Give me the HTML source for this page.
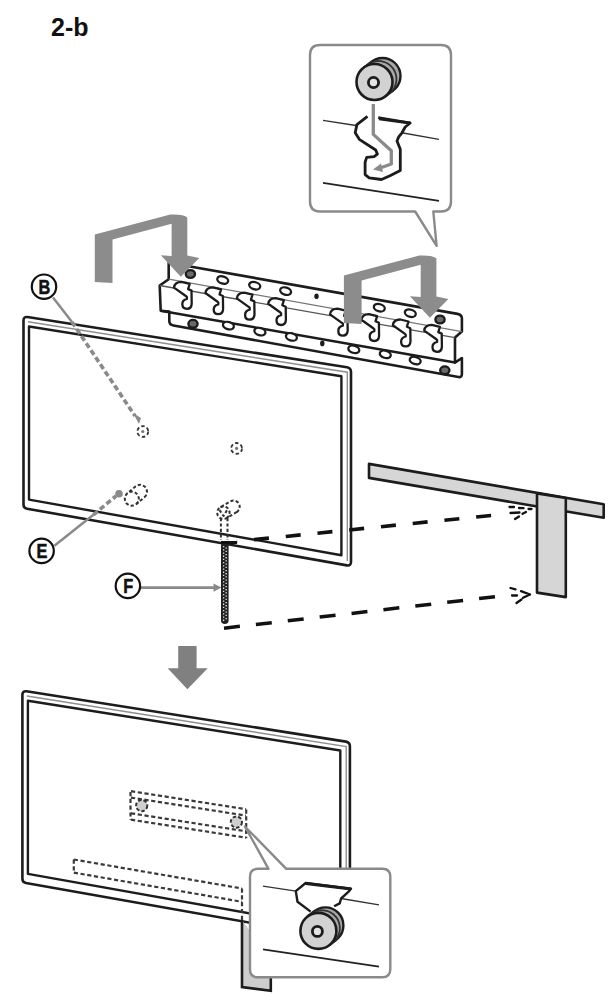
<!DOCTYPE html>
<html><head><meta charset="utf-8"><style>
html,body{margin:0;padding:0;background:#fff;}
body{width:610px;height:995px;overflow:hidden;}
svg{display:block;}
</style></head><body>
<svg width="610" height="995" viewBox="0 0 610 995">
<rect width="610" height="995" fill="#fff"/>
<text x="51" y="36" font-family="Liberation Sans" font-weight="bold" font-size="25" fill="#111">2-b</text><path d="M320,45 L441,45 Q451,45 451,55 L451,201.5 Q451,211.5 441,211.5 L433.3,211.5 L436.6,245.9 L415.2,211.5 L320,211.5 Q310,211.5 310,201.5 L310,55 Q310,45 320,45 Z" fill="#fff" stroke="#8a8a8a" stroke-width="2.4" stroke-linejoin="round"/><path d="M323,120.3 L356,125.5 M400.3,132.5 L439,139.3" stroke="#333" stroke-width="1.3" fill="none"/><path d="M323,182.9 L439,200.8" stroke="#222" stroke-width="1.8" fill="none"/><polyline points="367.5,116.4 356.9,124.6 355.2,132.8 359.3,139.3 375.7,150 377.4,154.1 374.1,156.6 366.7,157.4 365.1,162.3 365.1,174.6 369.2,177.9 381.5,179.5 390.5,175.4 400.3,170.5 400.3,149.2 397,141 398.7,136.9 402,132.8 405.2,127 410.2,123 379,118.9" fill="#fff" stroke="#1c1c1c" stroke-width="2.8" stroke-linejoin="round"/><path d="M378.2,117.6 L410.2,123" stroke="#1c1c1c" stroke-width="2.6"/><path d="M373.3,104 L373.3,134.4 L391.3,150.8 L391.3,164 L380,168" stroke="#8a8a8a" stroke-width="3.3" fill="none" stroke-linejoin="round"/><path d="M373,169.5 L381,163.5 L383,172 Z" fill="#8a8a8a"/><circle cx="382.5" cy="76" r="18" fill="#a8a8a8" stroke="#1c1c1c" stroke-width="2.4"/><path d="M385.3,96.4 L393.3,90.4 L371.7,61.6 L363.7,67.6 Z" fill="#a8a8a8"/><path d="M385.3,96.4 L393.3,90.4 M371.7,61.6 L363.7,67.6" stroke="#1c1c1c" stroke-width="2.4"/><path d="M389.3,93.4 L391.9,91 L394,88.2 L395.5,85 L396.3,81.5 L396.5,78 L395.9,74.5 L394.7,71.2 L392.9,68.2 L390.5,65.6 L387.7,63.5 L384.5,62 L381,61.2 L377.5,61 L374,61.6 L370.7,62.8 L367.7,64.6" fill="none" stroke="#333" stroke-width="1.8"/><circle cx="374.5" cy="82" r="18" fill="#d2d2d2" stroke="#1c1c1c" stroke-width="2.6"/><circle cx="373.5" cy="82.5" r="5.1" fill="#e4e4e4" stroke="#1c1c1c" stroke-width="2.8"/><g transform="translate(0,0)"><path d="M23.5,320.5 Q23.5,316.5 27.5,317 L347,367.3 Q351,368 351,372 L351,562 Q351,566 347,565.4 L27,508.7 Q23.5,508 23.5,504.5 Z" fill="#fff" stroke="#1c1c1c" stroke-width="2.6" stroke-linejoin="round"/><path d="M28,321.7 L347.3,372.2 L347.3,561" fill="none" stroke="#8f8f8f" stroke-width="1.4"/><path d="M29,326.5 L341.4,376.2 L341.4,555.2 L29,499.6 Z" fill="#fff" stroke="#1c1c1c" stroke-width="2.4" stroke-linejoin="round"/></g><path d="M369,463.9 L603.7,504.3 L603.7,517.8 L369,477.9 Z" fill="#d6d6d6" stroke="#1c1c1c" stroke-width="2.6" stroke-linejoin="round"/><path d="M537,493.4 L565.8,498 L565.8,597.1 L537,592.6 Z" fill="#d6d6d6" stroke="#1c1c1c" stroke-width="2.6" stroke-linejoin="round"/><path d="M237,541.4 L505,514" stroke="#111" stroke-width="3.6" stroke-dasharray="15 16.9" stroke-dashoffset="-17.1" fill="none"/><path d="M224,628.2 L505,595.6" stroke="#111" stroke-width="3.5" stroke-dasharray="16 16.1" fill="none"/><g transform="translate(509.5,507)" stroke="#111" stroke-width="2.3" stroke-linecap="round"><path d="M0,0 L4.5,0 M9.5,1 L14,1.2 M19,2 L22,2 M1,6 L10,5.5 M13,6.8 L16.5,5 M5.5,12 L9.5,9.5"/></g><path d="M510.5,588 L515.5,589.3 M521,591.2 L530,594.5 M512,595.5 L517,595.5 M523,597.8 L530,594.5 M516.5,603 L521.5,599.5" stroke="#111" stroke-width="2.3" stroke-linecap="round" fill="none"/><path d="M168.7,262.7 L457.5,313.9 Q461.9,314.7 461.9,318.5 L461.9,331.6 L455,337.6 L455,362.6 L461.9,358 L461.9,374 Q461.9,377.6 458.5,377 L173.5,325.5 Q169.3,324.8 169.3,321 L169.3,311.6 L160.7,310.7 L159.7,285.5 L168.7,279.2 Z" fill="#fff" stroke="#1c1c1c" stroke-width="2.6" stroke-linejoin="round"/><path d="M160.7,310.7 L455,362.6" fill="none" stroke="#1c1c1c" stroke-width="2.5"/><path d="M159.7,285.5 L455,337.6" fill="none" stroke="#555" stroke-width="1.4"/><path d="M168.7,279.2 L461.9,331.6" fill="none" stroke="#777" stroke-width="1.3"/><path transform="translate(168.5,278.6)" d="M5.5,9 C6,5 9,3.3 13,3.3 L21.2,5.3 L19.6,10.5 L23,12 L23.2,25 C23,29 21,30.2 18.5,30.2 C15,30.2 13.8,28 13.8,25.5 C13.8,22 15.5,21 18.4,20.3 C18.8,19 18.2,18 17.7,17.7 Z" fill="#fff" stroke="#1c1c1c" stroke-width="2.3" stroke-linejoin="round"/><path transform="translate(199.9,284)" d="M5.5,9 C6,5 9,3.3 13,3.3 L21.2,5.3 L19.6,10.5 L23,12 L23.2,25 C23,29 21,30.2 18.5,30.2 C15,30.2 13.8,28 13.8,25.5 C13.8,22 15.5,21 18.4,20.3 C18.8,19 18.2,18 17.7,17.7 Z" fill="#fff" stroke="#1c1c1c" stroke-width="2.3" stroke-linejoin="round"/><path transform="translate(231.3,289.4)" d="M5.5,9 C6,5 9,3.3 13,3.3 L21.2,5.3 L19.6,10.5 L23,12 L23.2,25 C23,29 21,30.2 18.5,30.2 C15,30.2 13.8,28 13.8,25.5 C13.8,22 15.5,21 18.4,20.3 C18.8,19 18.2,18 17.7,17.7 Z" fill="#fff" stroke="#1c1c1c" stroke-width="2.3" stroke-linejoin="round"/><path transform="translate(262.7,294.8)" d="M5.5,9 C6,5 9,3.3 13,3.3 L21.2,5.3 L19.6,10.5 L23,12 L23.2,25 C23,29 21,30.2 18.5,30.2 C15,30.2 13.8,28 13.8,25.5 C13.8,22 15.5,21 18.4,20.3 C18.8,19 18.2,18 17.7,17.7 Z" fill="#fff" stroke="#1c1c1c" stroke-width="2.3" stroke-linejoin="round"/><path transform="translate(324.5,305.4)" d="M5.5,9 C6,5 9,3.3 13,3.3 L21.2,5.3 L19.6,10.5 L23,12 L23.2,25 C23,29 21,30.2 18.5,30.2 C15,30.2 13.8,28 13.8,25.5 C13.8,22 15.5,21 18.4,20.3 C18.8,19 18.2,18 17.7,17.7 Z" fill="#fff" stroke="#1c1c1c" stroke-width="2.3" stroke-linejoin="round"/><path transform="translate(355.9,310.8)" d="M5.5,9 C6,5 9,3.3 13,3.3 L21.2,5.3 L19.6,10.5 L23,12 L23.2,25 C23,29 21,30.2 18.5,30.2 C15,30.2 13.8,28 13.8,25.5 C13.8,22 15.5,21 18.4,20.3 C18.8,19 18.2,18 17.7,17.7 Z" fill="#fff" stroke="#1c1c1c" stroke-width="2.3" stroke-linejoin="round"/><path transform="translate(387.3,316.2)" d="M5.5,9 C6,5 9,3.3 13,3.3 L21.2,5.3 L19.6,10.5 L23,12 L23.2,25 C23,29 21,30.2 18.5,30.2 C15,30.2 13.8,28 13.8,25.5 C13.8,22 15.5,21 18.4,20.3 C18.8,19 18.2,18 17.7,17.7 Z" fill="#fff" stroke="#1c1c1c" stroke-width="2.3" stroke-linejoin="round"/><path transform="translate(418.7,321.6)" d="M5.5,9 C6,5 9,3.3 13,3.3 L21.2,5.3 L19.6,10.5 L23,12 L23.2,25 C23,29 21,30.2 18.5,30.2 C15,30.2 13.8,28 13.8,25.5 C13.8,22 15.5,21 18.4,20.3 C18.8,19 18.2,18 17.7,17.7 Z" fill="#fff" stroke="#1c1c1c" stroke-width="2.3" stroke-linejoin="round"/><ellipse cx="222.7" cy="280" rx="5.6" ry="3.6" transform="rotate(16 222.7 280)" fill="#fff" stroke="#1c1c1c" stroke-width="2.3"/><ellipse cx="254.7" cy="285.7" rx="5.6" ry="3.6" transform="rotate(16 254.7 285.7)" fill="#fff" stroke="#1c1c1c" stroke-width="2.3"/><ellipse cx="285.6" cy="291.1" rx="5.6" ry="3.6" transform="rotate(16 285.6 291.1)" fill="#fff" stroke="#1c1c1c" stroke-width="2.3"/><ellipse cx="379.3" cy="307.7" rx="5.6" ry="3.6" transform="rotate(16 379.3 307.7)" fill="#fff" stroke="#1c1c1c" stroke-width="2.3"/><ellipse cx="410.3" cy="313.2" rx="5.6" ry="3.6" transform="rotate(16 410.3 313.2)" fill="#fff" stroke="#1c1c1c" stroke-width="2.3"/><ellipse cx="228.4" cy="325.6" rx="5.6" ry="3.6" transform="rotate(16 228.4 325.6)" fill="#fff" stroke="#1c1c1c" stroke-width="2.3"/><ellipse cx="259.9" cy="331.6" rx="5.6" ry="3.6" transform="rotate(16 259.9 331.6)" fill="#fff" stroke="#1c1c1c" stroke-width="2.3"/><ellipse cx="291.4" cy="336.9" rx="5.6" ry="3.6" transform="rotate(16 291.4 336.9)" fill="#fff" stroke="#1c1c1c" stroke-width="2.3"/><ellipse cx="353.8" cy="349.3" rx="5.6" ry="3.6" transform="rotate(16 353.8 349.3)" fill="#fff" stroke="#1c1c1c" stroke-width="2.3"/><ellipse cx="385.3" cy="354.3" rx="5.6" ry="3.6" transform="rotate(16 385.3 354.3)" fill="#fff" stroke="#1c1c1c" stroke-width="2.3"/><ellipse cx="415.2" cy="360.5" rx="5.6" ry="3.6" transform="rotate(16 415.2 360.5)" fill="#fff" stroke="#1c1c1c" stroke-width="2.3"/><ellipse cx="190.4" cy="274" rx="4.6" ry="3.9" fill="#6a6a6a" stroke="#1c1c1c" stroke-width="2.4"/><ellipse cx="440" cy="319.5" rx="4.6" ry="3.9" fill="#6a6a6a" stroke="#1c1c1c" stroke-width="2.4"/><ellipse cx="193" cy="323.8" rx="4.6" ry="3.9" fill="#6a6a6a" stroke="#1c1c1c" stroke-width="2.4"/><ellipse cx="444.8" cy="370.3" rx="4.6" ry="3.9" fill="#6a6a6a" stroke="#1c1c1c" stroke-width="2.4"/><ellipse cx="316.5" cy="296.2" rx="2.2" ry="2.8" fill="#1c1c1c"/><ellipse cx="322.3" cy="343.4" rx="2.2" ry="2.8" fill="#1c1c1c"/><path transform="translate(94.8,234.5)" d="M0,0 L75.5,-20 Q89,-20.5 92.5,-17 L92.5,21 L104.5,23.5 L86,42.3 L66,20.7 L76.8,21.5 L76.8,-10.8 L17.7,5 L17.7,48.5 L0,47.5 Z" fill="#8c8c8c"/><path transform="translate(343.9,275.5)" d="M0,0 L75.5,-20 Q89,-20.5 92.5,-17 L92.5,21 L104.5,23.5 L86,42.3 L66,20.7 L76.8,21.5 L76.8,-10.8 L17.7,5 L17.7,48.5 L0,47.5 Z" fill="#8c8c8c"/><path d="M53,297.5 L72,322" stroke="#8a8a8a" stroke-width="2.5" fill="none"/><path d="M72,322 L135,416" stroke="#8a8a8a" stroke-width="3.6" stroke-dasharray="5.5 3" fill="none"/><path d="M133,413 L141,418 L139,424 Z" fill="#8a8a8a"/><circle cx="44" cy="286.7" r="12.2" fill="#fff" stroke="#111" stroke-width="2.2"/><text transform="translate(44.3,293.8) scale(0.84,1)" x="0" y="0" text-anchor="middle" font-family="Liberation Sans" font-weight="bold" font-size="19.5" fill="#111" stroke="#111" stroke-width="0.5">B</text><path d="M54.4,545.7 L93.4,514.8" stroke="#8a8a8a" stroke-width="2.5" fill="none"/><path d="M93.4,514.8 L116,496" stroke="#8a8a8a" stroke-width="3.6" stroke-dasharray="5.5 3" fill="none"/><circle cx="119" cy="493.8" r="3.8" fill="#8a8a8a"/><circle cx="41.6" cy="550.9" r="12.2" fill="#fff" stroke="#111" stroke-width="2.2"/><text transform="translate(41.9,558) scale(0.84,1)" x="0" y="0" text-anchor="middle" font-family="Liberation Sans" font-weight="bold" font-size="19.5" fill="#111" stroke="#111" stroke-width="0.5">E</text><path d="M140,587.6 L216,587.6" stroke="#8a8a8a" stroke-width="2.6" fill="none"/><path d="M213.5,583.5 L221.5,587.6 L213.5,591.7 Z" fill="#8a8a8a"/><circle cx="127.9" cy="585.9" r="12.2" fill="#fff" stroke="#111" stroke-width="2.2"/><text transform="translate(128.2,593) scale(0.84,1)" x="0" y="0" text-anchor="middle" font-family="Liberation Sans" font-weight="bold" font-size="19.5" fill="#111" stroke="#111" stroke-width="0.5">F</text><circle cx="142.8" cy="431.5" r="5.4" fill="none" stroke="#333" stroke-width="1.8" stroke-dasharray="3.5 2.3"/><circle cx="142.8" cy="431.5" r="1.6" fill="#777"/><circle cx="236.6" cy="448.4" r="5.4" fill="none" stroke="#333" stroke-width="1.8" stroke-dasharray="3.5 2.3"/><circle cx="236.6" cy="448.4" r="1.6" fill="#777"/><g fill="none" stroke="#333" stroke-width="2" stroke-dasharray="3.2 2.2" stroke-linejoin="round"><path d="M144.5,497.2 L145.7,495.8 L146.6,494.2 L147,492.4 L146.9,490.6 L146.3,488.8 L145.4,487.3 L144,486.1 L142.4,485.2 L140.6,484.8 L138.8,484.9 L137,485.5 L135.5,486.4 L127.3,493.3 L126.1,494.7 L125.2,496.3 L124.8,498.1 L124.9,499.9 L125.5,501.7 L126.4,503.2 L127.8,504.4 L129.4,505.3 L131.2,505.7 L133,505.6 L134.8,505 L136.3,504.1 Z"/><path d="M136.3,504.1 L137.5,502.7 L138.4,501.1 L138.8,499.3 L138.7,497.5 L138.1,495.7 L137.2,494.2 L135.8,493 L134.2,492.1 L132.4,491.7 L130.6,491.8 L128.8,492.4 L127.3,493.3"/></g><g fill="none" stroke="#333" stroke-width="2" stroke-dasharray="3.2 2.2" stroke-linejoin="round"><path d="M236.6,512.2 L237.9,511.2 L238.9,509.9 L239.5,508.4 L239.7,506.8 L239.5,505.2 L238.9,503.7 L237.9,502.4 L236.6,501.4 L235.1,500.8 L233.5,500.6 L231.9,500.8 L230.4,501.4 L220.3,507.3 L219,508.3 L218,509.6 L217.4,511.1 L217.2,512.7 L217.4,514.3 L218,515.8 L219,517.1 L220.3,518.1 L221.8,518.7 L223.4,518.9 L225,518.7 L226.5,518.1 Z"/><path d="M226.5,518.1 L227.8,517.1 L228.8,515.8 L229.4,514.3 L229.6,512.7 L229.4,511.1 L228.8,509.6 L227.8,508.3 L226.5,507.3 L225,506.7 L223.4,506.5 L221.8,506.7 L220.3,507.3"/><path d="M220.9,518 L220.9,540 M227.5,518 L227.5,540 M219.5,510 L223.5,516 L227,510"/></g><rect x="221" y="542" width="7.6" height="82" rx="3.8" fill="#222"/><path d="M223.6,546 L223.6,621" stroke="#e8e8e8" stroke-width="1.3" stroke-dasharray="1.3 1.9"/><path d="M226.2,547.5 L226.2,621" stroke="#e8e8e8" stroke-width="1.3" stroke-dasharray="1.3 1.9"/><path d="M221,542.5 L237,542.5" stroke="#111" stroke-width="3"/><path d="M178.2,645.9 L196.6,645.9 L196.6,668.2 L207.7,668.2 L187.4,689.2 L167.7,668.2 L178.2,668.2 Z" fill="#808080"/><g transform="translate(-1.1,374.3)"><path d="M23.5,320.5 Q23.5,316.5 27.5,317 L347,367.3 Q351,368 351,372 L351,562 Q351,566 347,565.4 L27,508.7 Q23.5,508 23.5,504.5 Z" fill="#fff" stroke="#1c1c1c" stroke-width="2.6" stroke-linejoin="round"/><path d="M28,321.7 L347.3,372.2 L347.3,561" fill="none" stroke="#8f8f8f" stroke-width="1.4"/><path d="M29,326.5 L341.4,376.2 L341.4,555.2 L29,499.6 Z" fill="#fff" stroke="#1c1c1c" stroke-width="2.4" stroke-linejoin="round"/></g><g fill="none" stroke="#3a3a3a" stroke-width="2.2" stroke-dasharray="4.2 2.6"><path d="M131,791.2 L246,809.2"/><path d="M131,797.6 L246,815.6"/><path d="M131,813.3 L246,831.3"/><path d="M131,819.7 L246,837.7"/><path d="M130.5,792 L130.5,820 M246.2,809.5 L246.2,838.3"/><path d="M73.8,859.5 L242,888.5 M73.8,872.6 L242,901.8 M73.8,859.5 L73.8,872.6 M242,888.5 L242,921"/></g><circle cx="141.7" cy="805.6" r="5.6" fill="#cfcfcf" stroke="#333" stroke-width="2" stroke-dasharray="3.5 2"/><circle cx="236.4" cy="822.1" r="5.6" fill="#cfcfcf" stroke="#333" stroke-width="2" stroke-dasharray="3.5 2"/><path d="M242,920 L242,987 L270.8,990.8 L270.8,960" fill="#cdcdcd" stroke="#1c1c1c" stroke-width="2.6"/><path d="M258,868.8 L268.5,868.8 L244.9,826.5 L286.3,868.8 L382.3,868.8 Q390.3,868.8 390.3,876.8 L390.3,969.3 Q390.3,977.3 382.3,977.3 L258,977.3 Q250,977.3 250,969.3 L250,876.8 Q250,868.8 258,868.8 Z" fill="#fff" stroke="#8a8a8a" stroke-width="2.4" stroke-linejoin="round"/><path d="M263,886.2 L296,891.1 M341,898.5 L379,904.9" stroke="#333" stroke-width="1.3" fill="none"/><path d="M263,949.3 L379,966.7" stroke="#222" stroke-width="1.8" fill="none"/><path d="M310.6,911.6 L297.5,901.8 L295.8,891.1 L305.7,883 L351,888.7 L348.1,892.2 L341.1,898.5 L339.7,903.4 L334.1,906.3" fill="#fff" stroke="#1c1c1c" stroke-width="2.4" stroke-linejoin="round"/><path d="M305.7,883.5 L351,889" stroke="#1c1c1c" stroke-width="2.8"/><circle cx="325.4" cy="925.4" r="18" fill="#a8a8a8" stroke="#1c1c1c" stroke-width="2.4"/><path d="M329.5,945.1 L336.5,939.6 L314.3,911.2 L307.3,916.7 Z" fill="#a8a8a8"/><path d="M329.5,945.1 L336.5,939.6 M314.3,911.2 L307.3,916.7" stroke="#1c1c1c" stroke-width="2.4"/><path d="M333,942.3 L335.6,939.9 L337.6,937 L339,933.7 L339.8,930.3 L339.8,926.8 L339.2,923.3 L338,920 L336.1,917 L333.6,914.5 L330.7,912.5 L327.5,911 L324,910.3 L320.5,910.2 L317,910.8 L313.8,912.1 L310.8,914" fill="none" stroke="#333" stroke-width="1.8"/><circle cx="318.4" cy="930.9" r="18" fill="#d2d2d2" stroke="#1c1c1c" stroke-width="2.6"/><circle cx="317.4" cy="931.4" r="5" fill="#e4e4e4" stroke="#1c1c1c" stroke-width="2.8"/>
</svg></body></html>
